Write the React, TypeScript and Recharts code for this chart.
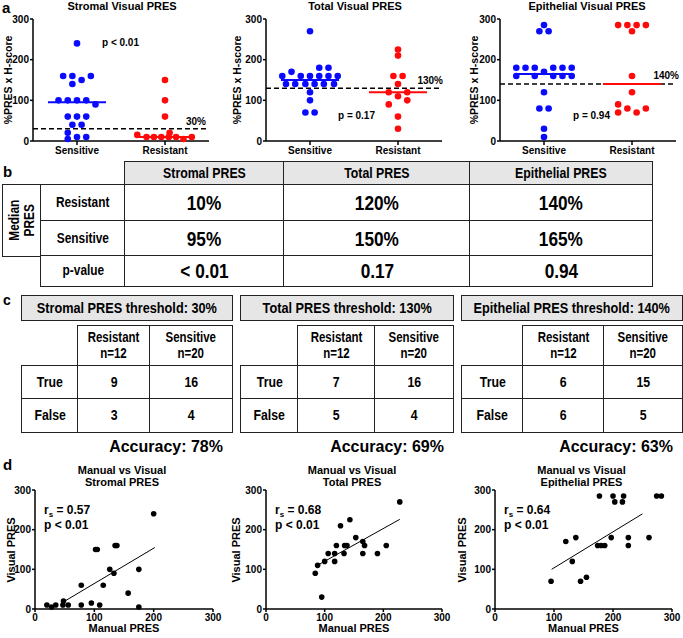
import React from "react";
import { ReferenceLine, Scatter, ScatterChart, XAxis, YAxis } from "recharts";

// ---- panel a: visual PRES by response group ----
const GROUPS = ["Sensitive", "Resistant"];
const A_TITLES = ["Stromal Visual PRES", "Total Visual PRES", "Epithelial Visual PRES"];
const THRESHOLDS = [30, 130, 140];
const P_LABELS = ["p < 0.01", "p = 0.17", "p = 0.94"];
const SENSITIVE_MEDIANS = [95, 150, 165];
const RESISTANT_MEDIANS = [10, 120, 140];

// values + beeswarm slot (column offset inside the group)
const stromalSens = [240, 160, 160, 160, 150, 140, 100, 100, 100, 100, 90, 60, 60, 60, 40, 40, 20, 10, 10, 5];
const stromalSensSlot = [0, -1.5, -0.5, 1.5, 0.5, -0.5, -2, -1, 0, 1, 2, -1, 0, 1, -0.5, 0.5, -1, 0, 1, -1];
const stromalRes = [150, 100, 60, 15, 10, 10, 10, 20, 10, 10, 5, 10];
const stromalResSlot = [0, 0, 0, -3, -2, -1.2, -0.4, 0.5, 0.4, 1.2, 2, 2.9];

const totalSens = [270, 180, 180, 170, 160, 160, 160, 160, 160, 160, 140, 140, 140, 140, 140, 140, 120, 100, 70, 70];
const totalSensSlot = [0, 1, 2, -2, -3, -1, 0, 1, 2, 3, -2.6, -1.6, -0.5, 0.5, 1.5, 2.6, 0, 0, -0.5, 0.5];
const totalRes = [225, 210, 160, 160, 140, 120, 120, 110, 100, 90, 60, 30];
const totalResSlot = [0, 0, -0.5, 0.5, 0, -1, 1, 0, 1, -1, 0, 0];

const epiSens = [285, 270, 270, 180, 180, 180, 180, 180, 180, 170, 160, 160, 160, 160, 160, 120, 80, 80, 30, 10];
const epiSensSlot = [0, -0.5, 0.5, -3, -2, -1, 1, 2, 3, 0, -3, -1, 1, 2, 3, 0, -0.5, 0.5, 0, 0];
const epiRes = [285, 285, 285, 285, 270, 160, 120, 90, 80, 80, 70, 70];
const epiResSlot = [-1.5, -0.5, 0.5, 1.5, 0, 0, 0, -1.5, -0.5, 1.5, -1.5, 0.5];

// ---- panel b ----
const B_COLUMNS = ["Stromal PRES", "Total PRES", "Epithelial PRES"];
const B_ROWS = ["Resistant", "Sensitive", "p-value"];
const medianResistant = ["10%", "120%", "140%"];
const medianSensitive = ["95%", "150%", "165%"];
const pValues = ["< 0.01", "0.17", "0.94"];

// ---- panel c ----
const C_TITLES = ["Stromal PRES threshold: 30%", "Total PRES threshold: 130%", "Epithelial PRES threshold: 140%"];
const trueResistant = [9, 7, 6];
const trueSensitive = [16, 16, 15];
const falseResistant = [3, 5, 6];
const falseSensitive = [4, 4, 5];
const accuracy = [78, 69, 63];

// ---- panel d: manual vs visual ----
const D_TITLES = ["Stromal PRES", "Total PRES", "Epithelial PRES"];
const RS = ["0.57", "0.68", "0.64"];
const D_P = ["p < 0.01", "p < 0.01", "p < 0.01"];

const stromalManual = [20, 28, 35, 48, 47, 56, 78, 95, 109, 78, 115, 126, 133, 157, 175, 175, 102, 105, 135, 138, 200];
const stromalVisual = [10, 5, 10, 20, 10, 10, 10, 15, 10, 60, 60, 100, 90, 40, 100, 5, 150, 150, 160, 160, 240];
const stromalFit = [[48, 18], [202, 155]];

const totalManual = [228, 143, 127, 153, 165, 120, 134, 138, 168, 205, 106, 117, 133, 165, 190, 100, 117, 88, 84, 95];
const totalVisual = [270, 225, 210, 180, 170, 160, 160, 160, 160, 160, 140, 140, 140, 140, 140, 120, 120, 110, 90, 30];
const totalFit = [[84, 107], [228, 226]];

const epiManual = [177, 200, 218, 274, 282, 203, 216, 120, 137, 197, 226, 261, 174, 180, 186, 226, 131, 155, 95, 145];
const epiVisual = [285, 285, 285, 285, 285, 270, 270, 170, 180, 180, 180, 180, 160, 160, 160, 160, 120, 80, 70, 70];
const epiFit = [[96, 100], [250, 240]];

const CHART_FONT = '"Liberation Sans", Arial, Helvetica, sans-serif';
const SLOT = 0.105;
const NARROW = 0.82;
const BLUE = "#0a0aff";
const RED = "#ff0a0a";
const HEADER_BG = "#e6e6e6";
const LINE = "#222";

const A_SETS = [
  { sens: stromalSens, sensSlot: stromalSensSlot, res: stromalRes, resSlot: stromalResSlot },
  { sens: totalSens, sensSlot: totalSensSlot, res: totalRes, resSlot: totalResSlot },
  { sens: epiSens, sensSlot: epiSensSlot, res: epiRes, resSlot: epiResSlot },
];
const D_SETS = [
  { manual: stromalManual, visual: stromalVisual, fit: stromalFit },
  { manual: totalManual, visual: totalVisual, fit: totalFit },
  { manual: epiManual, visual: epiVisual, fit: epiFit },
];

const A_LAYOUT = [
  { left: 0, axisX: 33, endX: 209, titleX: 122, yLabelX: 9, pX: 102, pY: 43, tX: 206, tY: 122 },
  { left: 230, axisX: 266, endX: 442, titleX: 355, yLabelX: 238, pX: 338, pY: 116, tX: 443, tY: 81 },
  { left: 460, axisX: 500, endX: 676, titleX: 587, yLabelX: 475, pX: 573, pY: 116, tX: 679, tY: 76 },
];
const D_LAYOUT = [
  { left: 0, axisX: 35, endX: 213, yLabelX: 12 },
  { left: 230, axisX: 266, endX: 442, yLabelX: 237 },
  { left: 455, axisX: 495, endX: 672, yLabelX: 463 },
];
const C_X = [
  [22, 78, 150, 232],
  [241, 298, 375, 453],
  [462, 523, 604, 682],
];
const B_X = [125, 284, 470, 652];
const B_Y = [185, 221, 256, 286];

const axisStyle = { stroke: "#000", strokeWidth: 1.5 };
const tickStyle = { fill: "#000", fontSize: 10, fontWeight: 700, fontFamily: CHART_FONT };

function Txt({ x, y, size = 11, anchor = "left", rotate = false, children }: any) {
  const tx = anchor === "center" ? "-50%" : anchor === "right" ? "-100%" : "0";
  return (
    <div
      style={{
        position: "absolute",
        left: x,
        top: y,
        transform: rotate ? "translate(-50%,-50%) rotate(-90deg)" : `translate(${tx},-50%)`,
        fontFamily: CHART_FONT,
        fontWeight: 700,
        fontSize: size,
        lineHeight: 1.05,
        whiteSpace: "nowrap",
        textAlign: "center",
        color: "#000",
      }}
    >
      {children}
    </div>
  );
}

// table cell; the text is squeezed horizontally to mimic a narrow bold face
function TableCell({ x0, x1, y0, y1, bg = "#fff", size = 15, lh = 1.1, rotate = false, children }: any) {
  return (
    <div
      style={{
        position: "absolute",
        left: x0 - 0.75,
        top: y0 - 0.75,
        width: x1 - x0 + 1.5,
        height: y1 - y0 + 1.5,
        boxSizing: "border-box",
        border: `1.5px solid ${LINE}`,
        background: bg,
        display: "flex",
        alignItems: "center",
        justifyContent: "center",
        textAlign: "center",
        fontFamily: CHART_FONT,
        fontWeight: 700,
        fontSize: size,
        lineHeight: lh,
        color: "#000",
      }}
    >
      <span
        style={{
          display: "inline-block",
          whiteSpace: "nowrap",
          transform: rotate ? `rotate(-90deg) scaleX(${NARROW})` : `scaleX(${NARROW})`,
        }}
      >
        {children}
      </span>
    </div>
  );
}

function VisualPanel({ i }: { i: number }) {
  const L = A_LAYOUT[i];
  const set = A_SETS[i];
  const sens = set.sens.map((v, k) => ({ x: 1 + set.sensSlot[k] * SLOT, y: v }));
  const res = set.res.map((v, k) => ({ x: 2 + set.resSlot[k] * SLOT, y: v }));
  const width = L.endX - L.left + 6;
  const half = 0.33;
  return (
    <div style={{ position: "absolute", left: L.left, top: 0 }}>
      <ScatterChart width={width} height={165} margin={{ top: 19, right: 6, bottom: 0, left: 0 }}>
        <XAxis
          type="number"
          dataKey="x"
          domain={[0.5, 2.5]}
          ticks={[1, 2]}
          tickFormatter={(v: number) => GROUPS[v - 1]}
          height={24}
          axisLine={axisStyle}
          tickLine={axisStyle}
          tickSize={4}
          tick={tickStyle}
        />
        <YAxis
          type="number"
          dataKey="y"
          domain={[0, 300]}
          ticks={[0, 100, 200, 300]}
          interval={0}
          width={L.axisX - L.left}
          axisLine={axisStyle}
          tickLine={axisStyle}
          tickSize={3}
          tickMargin={1}
          tick={tickStyle}
        />
        <ReferenceLine y={THRESHOLDS[i]} stroke="#000" strokeWidth={1.5} strokeDasharray="5 3" />
        <Scatter
          data={sens}
          isAnimationActive={false}
          shape={(p: any) => <circle cx={p.cx} cy={p.cy} r={3.3} fill={BLUE} />}
        />
        <Scatter
          data={res}
          isAnimationActive={false}
          shape={(p: any) => <circle cx={p.cx} cy={p.cy} r={3.3} fill={RED} />}
        />
        <ReferenceLine
          segment={[{ x: 1 - half, y: SENSITIVE_MEDIANS[i] }, { x: 1 + half, y: SENSITIVE_MEDIANS[i] }]}
          stroke={BLUE}
          strokeWidth={2}
        />
        <ReferenceLine
          segment={[{ x: 2 - half, y: RESISTANT_MEDIANS[i] }, { x: 2 + half, y: RESISTANT_MEDIANS[i] }]}
          stroke={RED}
          strokeWidth={2}
        />
      </ScatterChart>
    </div>
  );
}

function ManualPanel({ i }: { i: number }) {
  const L = D_LAYOUT[i];
  const set = D_SETS[i];
  const pts = set.manual.map((m, k) => ({ x: m, y: set.visual[k] }));
  const width = L.endX - L.left + 10;
  return (
    <div style={{ position: "absolute", left: L.left, top: 480 }}>
      <ScatterChart width={width} height={150} margin={{ top: 10, right: 10, bottom: 0, left: 0 }}>
        <XAxis
          type="number"
          dataKey="x"
          domain={[0, 300]}
          ticks={[0, 100, 200, 300]}
          interval={0}
          height={21}
          axisLine={axisStyle}
          tickLine={axisStyle}
          tickSize={3}
          tick={tickStyle}
        />
        <YAxis
          type="number"
          dataKey="y"
          domain={[0, 300]}
          ticks={[0, 100, 200, 300]}
          interval={0}
          width={L.axisX - L.left}
          axisLine={axisStyle}
          tickLine={axisStyle}
          tickSize={3}
          tickMargin={1}
          tick={tickStyle}
        />
        <ReferenceLine
          segment={[{ x: set.fit[0][0], y: set.fit[0][1] }, { x: set.fit[1][0], y: set.fit[1][1] }]}
          stroke="#000"
          strokeWidth={1}
        />
        <Scatter
          data={pts}
          isAnimationActive={false}
          shape={(p: any) => <circle cx={p.cx} cy={p.cy} r={2.8} fill="#000" />}
        />
      </ScatterChart>
    </div>
  );
}

export default function App() {
  return (
    <div
      style={{
        position: "absolute",
        left: 0,
        top: 0,
        width: 683,
        height: 638,
        background: "#fff",
        overflow: "hidden",
        fontFamily: CHART_FONT,
      }}
    >
      {/* a */}
      {[0, 1, 2].map((i) => (
        <VisualPanel key={`a${i}`} i={i} />
      ))}
      <Txt x={2} y={8} size={15}>a</Txt>
      {A_LAYOUT.map((L, i) => (
        <React.Fragment key={`at${i}`}>
          <Txt x={L.titleX} y={7} anchor="center">{A_TITLES[i]}</Txt>
          <Txt x={L.yLabelX} y={80} size={10.5} rotate>%PRES x H-score</Txt>
          <Txt x={L.pX} y={L.pY} size={10}>{P_LABELS[i]}</Txt>
          <Txt x={L.tX} y={L.tY} size={10} anchor="right">{THRESHOLDS[i]}%</Txt>
        </React.Fragment>
      ))}

      {/* b */}
      <Txt x={3} y={172} size={15}>b</Txt>
      {B_COLUMNS.map((c, j) => (
        <TableCell key={`bh${j}`} x0={B_X[j]} x1={B_X[j + 1]} y0={162} y1={185} bg={HEADER_BG} size={15}>
          {c}
        </TableCell>
      ))}
      <TableCell x0={3} x1={41} y0={185} y1={256} size={14.5} lh={1.05} rotate>
        Median
        <br />
        PRES
      </TableCell>
      {B_ROWS.map((r, k) => (
        <TableCell key={`br${k}`} x0={41} x1={125} y0={B_Y[k]} y1={B_Y[k + 1]} size={14.5}>
          {r}
        </TableCell>
      ))}
      {[medianResistant, medianSensitive, pValues].map((row, k) =>
        row.map((v, j) => (
          <TableCell key={`bv${k}${j}`} x0={B_X[j]} x1={B_X[j + 1]} y0={B_Y[k]} y1={B_Y[k + 1]} size={21}>
            {v}
          </TableCell>
        ))
      )}

      {/* c */}
      <Txt x={3} y={300} size={14}>c</Txt>
      {C_X.map((cx, i) => (
        <React.Fragment key={`c${i}`}>
          <TableCell x0={cx[0]} x1={cx[3]} y0={296} y1={320} bg={HEADER_BG} size={15.5}>
            {C_TITLES[i]}
          </TableCell>
          <TableCell x0={cx[1]} x1={cx[2]} y0={326} y1={366} size={14} lh={1.12}>
            Resistant
            <br />
            n=12
          </TableCell>
          <TableCell x0={cx[2]} x1={cx[3]} y0={326} y1={366} size={14} lh={1.12}>
            Sensitive
            <br />
            n=20
          </TableCell>
          <TableCell x0={cx[0]} x1={cx[1]} y0={366} y1={399}>True</TableCell>
          <TableCell x0={cx[1]} x1={cx[2]} y0={366} y1={399}>{trueResistant[i]}</TableCell>
          <TableCell x0={cx[2]} x1={cx[3]} y0={366} y1={399}>{trueSensitive[i]}</TableCell>
          <TableCell x0={cx[0]} x1={cx[1]} y0={399} y1={432}>False</TableCell>
          <TableCell x0={cx[1]} x1={cx[2]} y0={399} y1={432}>{falseResistant[i]}</TableCell>
          <TableCell x0={cx[2]} x1={cx[3]} y0={399} y1={432}>{falseSensitive[i]}</TableCell>
          <Txt x={cx[3] - 9} y={447} size={16} anchor="right">Accuracy: {accuracy[i]}%</Txt>
        </React.Fragment>
      ))}

      {/* d */}
      {[0, 1, 2].map((i) => (
        <ManualPanel key={`d${i}`} i={i} />
      ))}
      <Txt x={3} y={465} size={15}>d</Txt>
      {D_LAYOUT.map((L, i) => {
        const mid = (L.axisX + L.endX) / 2;
        return (
          <React.Fragment key={`dt${i}`}>
            <Txt x={mid - 2} y={477} anchor="center">
              Manual vs Visual
              <br />
              {D_TITLES[i]}
            </Txt>
            <Txt x={L.axisX + 9} y={510} size={12}>
              r<span style={{ fontSize: 8, position: "relative", top: 3 }}>s</span> = {RS[i]}
            </Txt>
            <Txt x={L.axisX + 9} y={525} size={12}>{D_P[i]}</Txt>
            <Txt x={mid} y={629} size={11} anchor="center">Manual PRES</Txt>
            <Txt x={L.yLabelX} y={550} size={11} rotate>Visual PRES</Txt>
          </React.Fragment>
        );
      })}
    </div>
  );
}
